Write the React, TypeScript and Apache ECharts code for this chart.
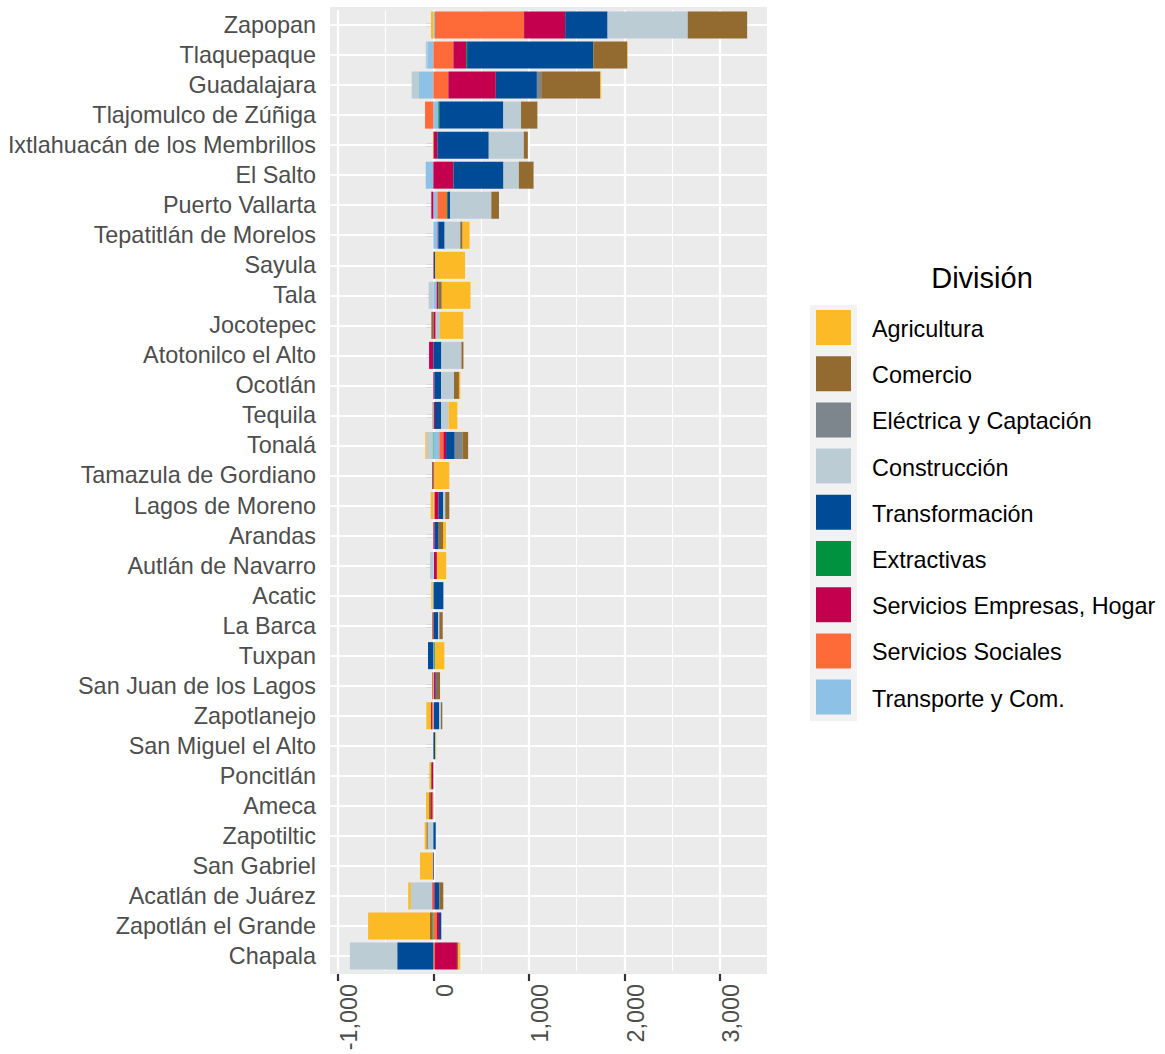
import React, { useEffect, useRef } from 'react';
import * as echarts from 'echarts';

// Municipalities (top to bottom)
const categories = [
  'Zapopan', 'Tlaquepaque', 'Guadalajara', 'Tlajomulco de Zúñiga', 'Ixtlahuacán de los Membrillos',
  'El Salto', 'Puerto Vallarta', 'Tepatitlán de Morelos', 'Sayula', 'Tala', 'Jocotepec',
  'Atotonilco el Alto', 'Ocotlán', 'Tequila', 'Tonalá', 'Tamazula de Gordiano', 'Lagos de Moreno',
  'Arandas', 'Autlán de Navarro', 'Acatic', 'La Barca', 'Tuxpan', 'San Juan de los Lagos',
  'Zapotlanejo', 'San Miguel el Alto', 'Poncitlán', 'Ameca', 'Zapotiltic', 'San Gabriel',
  'Acatlán de Juárez', 'Zapotlán el Grande', 'Chapala',
];

const agricultura = [-25, 5, 10, 0, -5, 0, 0, 73, 315, 301, 245, 0, 14, 91, -14, 157, -28, 30, 98, -14, 0, 98, 0, -49, 10, -14, -32, -18, -133, -28, -648, 21];
const comercio = [622, 356, 618, 171, 42, 154, 80, 24, 0, 32, -21, 21, 52, 0, 60, -14, 42, 45, 0, 0, 35, 0, 35, 14, 0, -14, -21, -14, 0, 40, -25, 14];
const electrica = [0, 0, 45, 0, 0, 0, 0, 0, 0, 0, 0, 0, 0, 0, 80, 0, 0, 0, 0, 0, 0, 0, 0, 0, 0, 0, 0, 0, 0, 0, 0, 0];
const construccion = [839, -17, -77, 185, 367, 161, 430, 164, 0, -49, 45, 210, 136, 77, -63, 0, 21, 0, -35, -7, 14, 0, 0, 21, 0, 0, 0, -49, 0, -221, 0, -496];
const transformacion = [444, 1321, 430, 671, 538, 524, 24, 66, 12, 0, 0, 84, 70, 66, 91, 0, 49, 42, 0, 105, 49, -56, 14, 52, 20, 0, 0, 25, 7, 50, 24, -378];
const extractivas = [0, 10, 0, 10, 0, 0, 10, 0, 0, 7, 0, 0, 0, 0, -7, 0, 0, 0, 0, 0, 0, 7, 0, 0, 0, 0, 0, 0, 0, 0, -10, 0];
const serviciosEmpresas = [430, 133, 497, 0, 42, 210, -21, 7, 5, 14, 24, -45, 10, 10, 28, 10, 38, 14, 30, 0, 0, 0, 14, -14, 0, -14, -14, 0, -7, 14, 21, 230];
const serviciosSociales = [933, 210, 157, -87, 0, 0, 101, 0, 0, 0, 0, 0, 0, 7, 42, 0, 10, 0, 0, 0, -14, 0, -14, 7, 0, 0, -10, 0, 0, -14, 38, 17];
const transporte = [17, -63, -150, 52, 0, -80, 42, 45, 0, 35, 0, 0, 0, -12, 63, 0, 7, 0, 7, 0, 0, 10, 7, -10, 0, 0, 0, -10, 0, 0, 0, 0];

// Axis tick labels and grid positions
const majorTicks = [-1000, 0, 1000, 2000, 3000];
const minorTicks = [-500, 500, 1500, 2500];

// Legend order (as in the reference)
const legendOrder = [
  'Agricultura', 'Comercio', 'Eléctrica y Captación', 'Construcción', 'Transformación',
  'Extractivas', 'Servicios Empresas, Hogar', 'Servicios Sociales', 'Transporte y Com.',
];

// Stack order: first = nearest to zero
const seriesDefs = [
  { name: 'Transporte y Com.', data: transporte, color: '#8DC2E6' },
  { name: 'Servicios Sociales', data: serviciosSociales, color: '#FF6B38' },
  { name: 'Servicios Empresas, Hogar', data: serviciosEmpresas, color: '#C4004E' },
  { name: 'Extractivas', data: extractivas, color: '#00923F' },
  { name: 'Transformación', data: transformacion, color: '#004B97' },
  { name: 'Construcción', data: construccion, color: '#BCCCD5' },
  { name: 'Eléctrica y Captación', data: electrica, color: '#7D868C' },
  { name: 'Comercio', data: comercio, color: '#936A2F' },
  { name: 'Agricultura', data: agricultura, color: '#FBBA26' },
];

const FONT = '"Liberation Sans", Arial, Helvetica, sans-serif';
const FS = 23.4;

function buildOption() {
  const posTotals = categories.map((_, i) => seriesDefs.reduce((s, d) => s + Math.max(0, d.data[i]), 0));
  const negTotals = categories.map((_, i) => seriesDefs.reduce((s, d) => s + Math.min(0, d.data[i]), 0));
  const dMax = Math.max(...posTotals);
  const dMin = Math.min(...negTotals);
  const range = dMax - dMin;
  const xMin = dMin - 0.05 * range;
  const xMax = dMax + 0.05 * range;

  const gridLines = [
    ...minorTicks.map((v) => ({ xAxis: v, lineStyle: { color: '#FFFFFF', width: 1.1, type: 'solid' } })),
    ...majorTicks.map((v) => ({ xAxis: v, lineStyle: { color: '#FFFFFF', width: 2.2, type: 'solid' } })),
    ...categories.map((_, i) => ({ yAxis: i, lineStyle: { color: '#FFFFFF', width: 2.2, type: 'solid' } })),
  ];

  return {
    animation: false,
    textStyle: { fontFamily: FONT },
    graphic: [
      {
        type: 'rect', z: -10, silent: true,
        shape: { x: 330, y: 7, width: 437, height: 967 },
        style: { fill: '#EBEBEB' },
      },
      {
        type: 'rect', z: -10, silent: true,
        shape: { x: 810, y: 305, width: 47, height: 416 },
        style: { fill: '#F2F2F2' },
      },
      {
        type: 'text', z: 10, silent: true, x: 982, y: 278,
        style: {
          text: 'División', fontSize: 29, fontFamily: FONT, fill: '#000000',
          align: 'center', verticalAlign: 'middle',
        },
      },
    ],
    grid: { left: 330, right: 398, top: 10, bottom: 83, containLabel: false },
    legend: {
      data: legendOrder,
      orient: 'vertical',
      left: 816,
      top: 310,
      itemWidth: 35,
      itemHeight: 35,
      itemGap: 11.2,
      icon: 'rect',
      selectedMode: false,
      padding: 0,
      formatter: (name: string) => `{t|${name}}`,
      textStyle: {
        fontSize: FS,
        fontFamily: FONT,
        color: '#000000',
        rich: { t: { fontSize: FS, fontFamily: FONT, color: '#000000', padding: [3, 0, 0, 16] } },
      },
    },
    xAxis: {
      type: 'value',
      min: xMin,
      max: xMax,
      offset: 3,
      axisLine: { show: false },
      axisTick: {
        show: true, length: 7, customValues: majorTicks,
        lineStyle: { color: '#333333', width: 2.2 },
      },
      axisLabel: {
        customValues: majorTicks,
        rotate: 90,
        margin: 10,
        fontSize: FS,
        color: '#4D4D4D',
        fontFamily: FONT,
        verticalAlign: 'top',
        formatter: (v: number) => v.toLocaleString('en-US'),
      },
      splitLine: { show: false },
    },
    yAxis: {
      type: 'category',
      data: categories,
      inverse: true,
      axisLine: { show: false },
      axisTick: { show: true, alignWithLabel: true, length: 7, lineStyle: { color: '#333333', width: 2.2 } },
      axisLabel: { fontSize: FS, color: '#4D4D4D', margin: 14, fontFamily: FONT, interval: 0, padding: [3, 0, 0, 0] },
      splitLine: { show: false },
    },
    series: [
      {
        type: 'line',
        name: '__grid',
        data: [],
        z: 1,
        silent: true,
        markLine: {
          z: 1,
          silent: true,
          symbol: ['none', 'none'],
          label: { show: false },
          emphasis: { disabled: true },
          lineStyle: { type: 'solid', color: '#FFFFFF' },
          data: gridLines,
        },
      },
      ...seriesDefs.map((d) => ({
        type: 'bar',
        name: d.name,
        stack: 'total',
        data: d.data,
        barWidth: '90%',
        z: 2,
        itemStyle: { color: d.color },
        emphasis: { disabled: true },
      })),
    ],
  };
}

export default function App() {
  const ref = useRef<HTMLDivElement>(null);
  useEffect(() => {
    document.body.style.margin = '0';
    const chart = echarts.init(ref.current as HTMLDivElement, null, { renderer: 'svg' });
    chart.setOption(buildOption() as any);
    return () => chart.dispose();
  }, []);
  return (
    <div
      ref={ref}
      style={{ position: 'absolute', left: 0, top: 0, width: 1165, height: 1054 }}
    />
  );
}
